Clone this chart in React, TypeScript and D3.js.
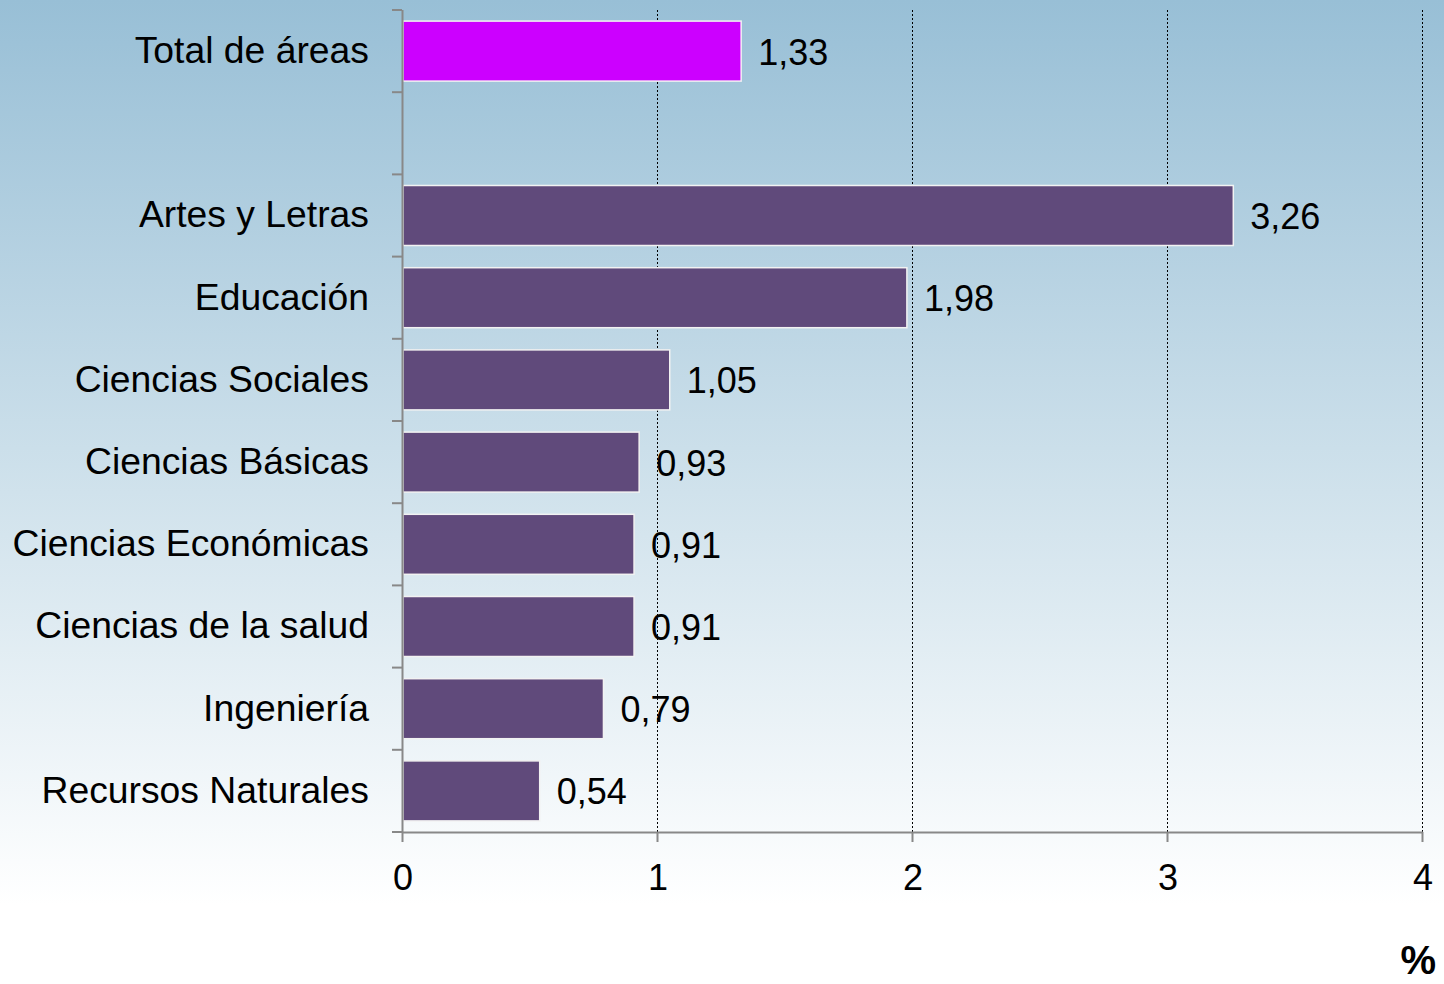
import * as d3 from "d3";

const categories = [
  "Total de áreas",
  "",
  "Artes y Letras",
  "Educación",
  "Ciencias Sociales",
  "Ciencias Básicas",
  "Ciencias Económicas",
  "Ciencias de la salud",
  "Ingeniería",
  "Recursos Naturales",
];
const values = [1.33, null, 3.26, 1.98, 1.05, 0.93, 0.91, 0.91, 0.79, 0.54];
const labels = ["1,33", "", "3,26", "1,98", "1,05", "0,93", "0,91", "0,91", "0,79", "0,54"];
const xTicks = [0, 1, 2, 3, 4];

const W = 1444;
const H = 984;
const margin = { top: 10, right: 22, bottom: 152, left: 402 };
const FONT = "'Liberation Sans', Arial, sans-serif";

export default function App() {
  const keys = categories.map((c, i) => `${i}:${c}`);
  const x = d3.scaleLinear().domain([0, 4]).range([margin.left, W - margin.right]);
  const y = d3
    .scaleBand()
    .domain(keys)
    .range([margin.top, H - margin.bottom])
    .paddingInner(0.27)
    .paddingOuter(0.135);
  const step = y.step();
  const y0 = margin.top;
  const y1 = H - margin.bottom;
  const boundaries = d3.range(categories.length + 1).map((i) => y0 + i * step);

  return (
    <svg
      width={W}
      height={H}
      style={{ position: "absolute", left: 0, top: 0, display: "block" }}
      fontFamily={FONT}
    >
      <defs>
        <linearGradient id="bg" x1="0" y1="0" x2="0" y2="1">
          <stop offset="0" stopColor="#98bfd6" />
          <stop offset="0.5" stopColor="#d0e2ec" />
          <stop offset="0.92" stopColor="#ffffff" />
          <stop offset="1" stopColor="#ffffff" />
        </linearGradient>
      </defs>
      <rect width={W} height={H} fill="url(#bg)" />

      {/* gridlines */}
      {xTicks.slice(1).map((t) => (
        <line
          key={`g${t}`}
          x1={x(t) + 0.5}
          x2={x(t) + 0.5}
          y1={y0}
          y2={y1}
          stroke="#000"
          strokeWidth={1}
          strokeDasharray="2,2"
        />
      ))}

      {/* bars */}
      {values.map((v, i) =>
        v == null ? null : (
          <rect
            key={`b${i}`}
            x={x(0) + 1}
            y={y(keys[i])!}
            width={x(v) - x(0) - 1}
            height={y.bandwidth()}
            fill={i === 0 ? "#cc00ff" : "#604a7b"}
            stroke="#f2f2f2"
            strokeWidth={1.5}
          />
        )
      )}

      {/* value labels */}
      {values.map((v, i) =>
        v == null ? null : (
          <text
            key={`v${i}`}
            x={x(v) + 17}
            y={y(keys[i])! + y.bandwidth() / 2 + 4}
            dominantBaseline="middle"
            fontSize={36}
            fill="#000"
          >
            {labels[i]}
          </text>
        )
      )}

      {/* category labels */}
      {categories.map((c, i) =>
        c ? (
          <text
            key={`c${i}`}
            x={369}
            y={y(keys[i])! + y.bandwidth() / 2 + 2}
            textAnchor="end"
            dominantBaseline="middle"
            fontSize={37.3}
            fill="#000"
          >
            {c}
          </text>
        ) : null
      )}

      {/* y axis */}
      <line x1={x(0) + 0.5} x2={x(0) + 0.5} y1={y0} y2={y1} stroke="#888" strokeWidth={2} />
      {boundaries.map((b, i) => (
        <line key={`yt${i}`} x1={x(0) - 10} x2={x(0)} y1={b} y2={b} stroke="#888" strokeWidth={2} />
      ))}

      {/* x axis */}
      <line x1={x(0)} x2={x(4) + 1} y1={y1 + 0.5} y2={y1 + 0.5} stroke="#888" strokeWidth={2} />
      {xTicks.map((t) => (
        <g key={`xt${t}`}>
          <line x1={x(t) + 0.5} x2={x(t) + 0.5} y1={y1} y2={y1 + 10} stroke="#888" strokeWidth={2} />
          <text x={x(t) + 1} y={y1 + 58} textAnchor="middle" fontSize={36} fill="#000">
            {t}
          </text>
        </g>
      ))}

      <text x={1436} y={974} textAnchor="end" fontSize={40} fontWeight="bold" fill="#000">
        %
      </text>
    </svg>
  );
}
